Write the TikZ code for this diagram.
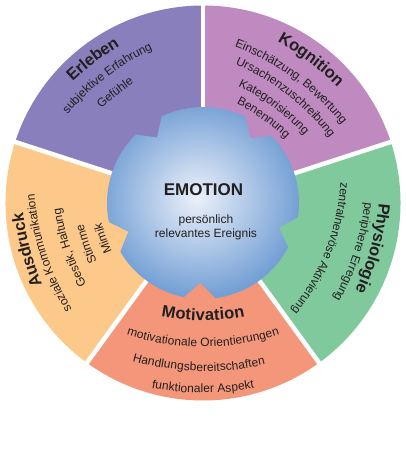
\documentclass[tikz,border=0pt]{standalone}
\usepackage{fontspec}
\setmainfont{Liberation Sans}
\usetikzlibrary{decorations.text,calc}
\definecolor{cErl}{RGB}{137,127,189}
\definecolor{cKog}{RGB}{190,138,191}
\definecolor{cPhy}{RGB}{128,201,157}
\definecolor{cMot}{RGB}{244,150,122}
\definecolor{cAus}{RGB}{253,201,139}
\definecolor{blobin}{RGB}{236,241,250}
\definecolor{blobout}{RGB}{116,160,213}
\definecolor{txt}{RGB}{35,31,32}
\pgfdeclareradialshading{blobshade}{\pgfpoint{-1.5bp}{1bp}}{color(0bp)=(blobin); color(25bp)=(blobout); color(50bp)=(blobout)}
\newcommand{\ttlfont}{\fontsize{16.5}{18}\selectfont\bfseries}
\newcommand{\lnfont}{\fontsize{12}{14}\selectfont}
% text on an arc, letters facing outward
\newcommand{\outtext}[5]{%
  \pgfmathsetmacro{\myrr}{#2+96}%
  \pgfmathsetmacro{\mysa}{#1+38}%
  \pgfmathsetmacro{\myea}{#1-38}%
  \path[decorate,decoration={text along path,text align=center,raise=#3,text color=txt,text={|#4|#5}}]
    ($(#1+180:96pt)+(\mysa:\myrr pt)$) arc[start angle=\mysa,end angle=\myea,radius=\myrr pt];%
}
% text on an arc, letters facing inward
\newcommand{\intext}[5]{%
  \pgfmathsetmacro{\myrr}{#2+96}%
  \pgfmathsetmacro{\mysa}{#1-38}%
  \pgfmathsetmacro{\myea}{#1+38}%
  \path[decorate,decoration={text along path,text align=center,raise=#3,text color=txt,text={|#4|#5}}]
    ($(#1+180:96pt)+(\mysa:\myrr pt)$) arc[start angle=\mysa,end angle=\myea,radius=\myrr pt];%
}
\tikzset{gapline/.style={white,line width=4.5pt}}
\begin{document}
\begin{tikzpicture}[x=1pt,y=1pt]
\useasboundingbox (-203,-252) rectangle (203,203);
% segments
\fill[cKog] (0,0) -- (18:197.5pt) arc[start angle=18,end angle=90,radius=197.5pt] -- cycle;
\fill[cErl] (0,0) -- (90:197.5pt) arc[start angle=90,end angle=162,radius=197.5pt] -- cycle;
\fill[cAus] (0,0) -- (162:197.5pt) arc[start angle=162,end angle=234,radius=197.5pt] -- cycle;
\fill[cMot] (0,0) -- (234:197.5pt) arc[start angle=234,end angle=306,radius=197.5pt] -- cycle;
\fill[cPhy] (0,0) -- (306:197.5pt) arc[start angle=306,end angle=378,radius=197.5pt] -- cycle;
% white gaps
\foreach \a in {18,90,162,234,306} \draw[gapline] (0,0) -- (\a:199pt);
% central blob
\shade[shading=blobshade] (63.5:96pt) arc[start angle=63.5,end angle=115.5,radius=96pt]
  -- (125:80pt) -- (134.5:96pt) arc[start angle=134.5,end angle=191.5,radius=96pt]
  -- (201:80pt) -- (210.5:96pt) arc[start angle=210.5,end angle=258.5,radius=96pt]
  -- (268:80pt) -- (277.5:96pt) arc[start angle=277.5,end angle=332.5,radius=96pt]
  -- (342:80pt) -- (351.5:96pt) arc[start angle=351.5,end angle=404.5,radius=96pt]
  -- (54:80pt) -- cycle;
\node[text=txt,font=\fontsize{17}{19}\selectfont\bfseries] (emo) at (0.5,13) {EMOTION};
\node[text=txt,font=\lnfont,align=center] (ereignis) at (3,-24) {persönlich\\relevantes Ereignis};
% Erleben
\outtext{127.5}{182.5}{-5.4pt}{\ttlfont}{Erleben}
\outtext{127.5}{162}{-3.6pt}{\lnfont}{subjektive Erfahrung}
\outtext{128.5}{141.5}{-3.6pt}{\lnfont}{Gefühle}
% Kognition
\outtext{53}{181.7}{-5.4pt}{\ttlfont}{Kognition}
\outtext{54}{157.5}{-3.6pt}{\lnfont}{Einschätzung, Bewertung}
\outtext{52}{140.6}{-3.6pt}{\lnfont}{Ursachenzuschreibung}
\outtext{53.5}{122.4}{-3.6pt}{\lnfont}{Kategorisierung}
\outtext{54.5}{106.1}{-3.6pt}{\lnfont}{Benennung}
% Physiologie
\outtext{345}{179}{-5.4pt}{\ttlfont}{Physiologie}
\outtext{342}{162.3}{-3.6pt}{\lnfont}{periphere Erregung}
\outtext{339}{135.1}{-3.6pt}{\lnfont}{zentralnervöse Aktivierung}
% Ausdruck
\outtext{195}{184.3}{-5.4pt}{\ttlfont}{Ausdruck}
\outtext{198}{168.2}{-3.6pt}{\lnfont}{soziale Kommunikation}
\outtext{198.5}{143.6}{-3.6pt}{\lnfont}{Gestik, Haltung}
\outtext{199.5}{124.3}{-3.6pt}{\lnfont}{Stimme}
\outtext{199.5}{106.3}{-3.6pt}{\lnfont}{Mimik}
% Motivation
\intext{270}{112}{-5.4pt}{\ttlfont}{Motivation}
\intext{270}{140.3}{-3.6pt}{\lnfont}{motivationale Orientierungen}
\intext{268.5}{164.7}{-3.6pt}{\lnfont}{Handlungsbereitschaften}
\intext{270}{186.3}{-3.6pt}{\lnfont}{funktionaler Aspekt}
\end{tikzpicture}
\end{document}
